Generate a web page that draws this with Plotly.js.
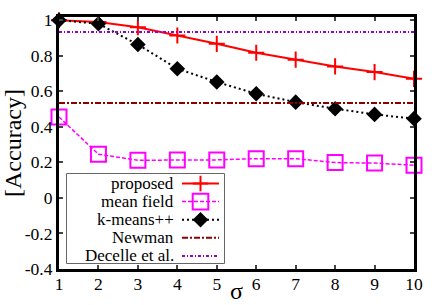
<!DOCTYPE html>
<html>
<head>
<meta charset="utf-8">
<script src="https://cdn.plot.ly/plotly-3.0.1.min.js"></script>
<style>
html,body{margin:0;padding:0;background:#fff;}
#chart{width:436px;height:305px;}
</style>
</head>
<body>
<div id="chart"></div>
<script>
const sigma = [1, 2, 3, 4, 5, 6, 7, 8, 9, 10];
const proposed = [1.0, 0.99, 0.96, 0.914, 0.867, 0.817, 0.778, 0.74, 0.708, 0.67];
const meanField = [0.455, 0.246, 0.212, 0.214, 0.214, 0.221, 0.221, 0.199, 0.196, 0.184];
const kmeans = [1.0, 0.98, 0.863, 0.727, 0.652, 0.586, 0.539, 0.502, 0.47, 0.446];
const newman = [0.534, 0.534, 0.534, 0.534, 0.534, 0.534, 0.534, 0.534, 0.534, 0.534];
const decelle = [0.933, 0.933, 0.933, 0.933, 0.933, 0.933, 0.933, 0.933, 0.933, 0.933];
const seriesNames = ["proposed", "mean field", "k-means++", "Newman", "Decelle et al."];
const yTickVals = [-0.4, -0.2, 0, 0.2, 0.4, 0.6, 0.8, 1];
const yTickText = ["-0.4", "-0.2", "0", "0.2", "0.4", "0.6", "0.8", "1"];
const xTickVals = [1, 2, 3, 4, 5, 6, 7, 8, 9, 10];

const FONT = "'Liberation Serif', 'Times New Roman', serif";
const W = 436, H = 305;
const M = {l: 59, r: 22, t: 17, b: 36};
const PW = W - M.l - M.r, PH = H - M.t - M.b;
const X = px => (px - M.l) / PW;
const Y = py => (H - M.b - py) / PH;

const styles = [
  {color: "#ff0000", dash: "solid", width: 2, mk: "plus"},
  {color: "#ff00ff", dash: "4px,2px", width: 1.5, mk: "square"},
  {color: "#000000", dash: "2px,3px", width: 2, mk: "diamond"},
  {color: "#8b0000", dash: "6px,2px,2px,2px", width: 2, mk: null},
  {color: "#9400d3", dash: "3px,2px,1px,2px", width: 2, mk: null}
];

const traces = [
  {x: sigma, y: proposed, name: seriesNames[0], mode: "lines+markers", cliponaxis: false,
   line: {color: styles[0].color, width: 2},
   marker: {symbol: "cross-thin", size: 11.5, line: {color: styles[0].color, width: 2}}},
  {x: sigma, y: meanField, name: seriesNames[1], mode: "lines+markers", cliponaxis: false,
   line: {color: styles[1].color, width: 1.5, dash: styles[1].dash},
   marker: {symbol: "square-open", size: 15, color: styles[1].color, line: {color: styles[1].color, width: 2}}},
  {x: sigma, y: kmeans, name: seriesNames[2], mode: "lines+markers", cliponaxis: false,
   line: {color: styles[2].color, width: 2, dash: styles[2].dash},
   marker: {symbol: "diamond", size: 12, color: styles[2].color}},
  {x: sigma, y: newman, name: seriesNames[3], mode: "lines", cliponaxis: false,
   line: {color: styles[3].color, width: 2, dash: styles[3].dash}},
  {x: sigma, y: decelle, name: seriesNames[4], mode: "lines", cliponaxis: false,
   line: {color: styles[4].color, width: 2, dash: styles[4].dash}}
];

// custom gnuplot-style key: text right-aligned, sample on the right
const shapes = [];
const annotations = [];
const box = {x0: 66.5, y0: 173.5, x1: 224.5, y1: 263.5};
shapes.push({type: "rect", xref: "paper", yref: "paper",
  x0: X(box.x0), x1: X(box.x1), y0: Y(box.y1), y1: Y(box.y0),
  line: {color: "#666", width: 1}, fillcolor: "#ffffff"});
const rowY0 = 183.5, rowGap = 18.1;
const sx0 = 182, sx1 = 219, sxc = 200.5;
seriesNames.forEach((nm, i) => {
  const yy = rowY0 + i * rowGap;
  const st = styles[i];
  annotations.push({xref: "paper", yref: "paper", x: X(176), y: Y(yy),
    xanchor: "right", yanchor: "middle", showarrow: false, text: nm,
    font: {family: FONT, size: 17, color: "#000"}});
  shapes.push({type: "line", xref: "paper", yref: "paper",
    x0: X(sx0), x1: X(sx1), y0: Y(yy), y1: Y(yy),
    line: {color: st.color, width: st.width, dash: st.dash}});
  const h = 7.8;
  if (st.mk === "plus") {
    shapes.push({type: "path", xref: "paper", yref: "paper",
      path: `M${X(sxc - h)},${Y(yy)} L${X(sxc + h)},${Y(yy)} M${X(sxc)},${Y(yy - h)} L${X(sxc)},${Y(yy + h)}`,
      line: {color: st.color, width: 2}});
  } else if (st.mk === "square") {
    shapes.push({type: "rect", xref: "paper", yref: "paper",
      x0: X(sxc - h), x1: X(sxc + h), y0: Y(yy + h), y1: Y(yy - h),
      line: {color: st.color, width: 2}});
  } else if (st.mk === "diamond") {
    shapes.push({type: "path", xref: "paper", yref: "paper",
      path: `M${X(sxc - h)},${Y(yy)} L${X(sxc)},${Y(yy - h)} L${X(sxc + h)},${Y(yy)} L${X(sxc)},${Y(yy + h)} Z`,
      line: {color: st.color, width: 0}, fillcolor: st.color});
  }
});

// x-axis title (sigma), placed like the gnuplot original
annotations.push({xref: "paper", yref: "paper", x: X(236.5), y: Y(305),
  xanchor: "center", yanchor: "bottom", showarrow: false, text: "σ", borderpad: 0,
  font: {family: FONT, size: 24, color: "#000"}});

const layout = {
  width: W, height: H,
  margin: M,
  paper_bgcolor: "#ffffff", plot_bgcolor: "#ffffff",
  font: {family: FONT, size: 17, color: "#000"},
  showlegend: false,
  shapes: shapes,
  annotations: annotations,
  xaxis: {range: [1, 10], tickvals: xTickVals, ticks: "inside", ticklen: 4, tickwidth: 2,
          showline: true, linewidth: 3, linecolor: "#000", mirror: "ticks",
          showgrid: false, zeroline: false, ticklabelstandoff: -3,
          tickfont: {family: FONT, size: 17.5, color: "#000"}},
  yaxis: {range: [-0.4, 1.018], tickvals: yTickVals, ticktext: yTickText, ticks: "inside", ticklen: 4, tickwidth: 2,
          showline: true, linewidth: 3, linecolor: "#000", mirror: "ticks",
          showgrid: false, zeroline: false,
          tickfont: {family: FONT, size: 17.5, color: "#000"},
          title: {text: "[Accuracy]", font: {family: FONT, size: 24, color: "#000"}, standoff: 4}}
};

Plotly.newPlot("chart", traces, layout, {displayModeBar: false, staticPlot: true});
</script>
</body>
</html>
